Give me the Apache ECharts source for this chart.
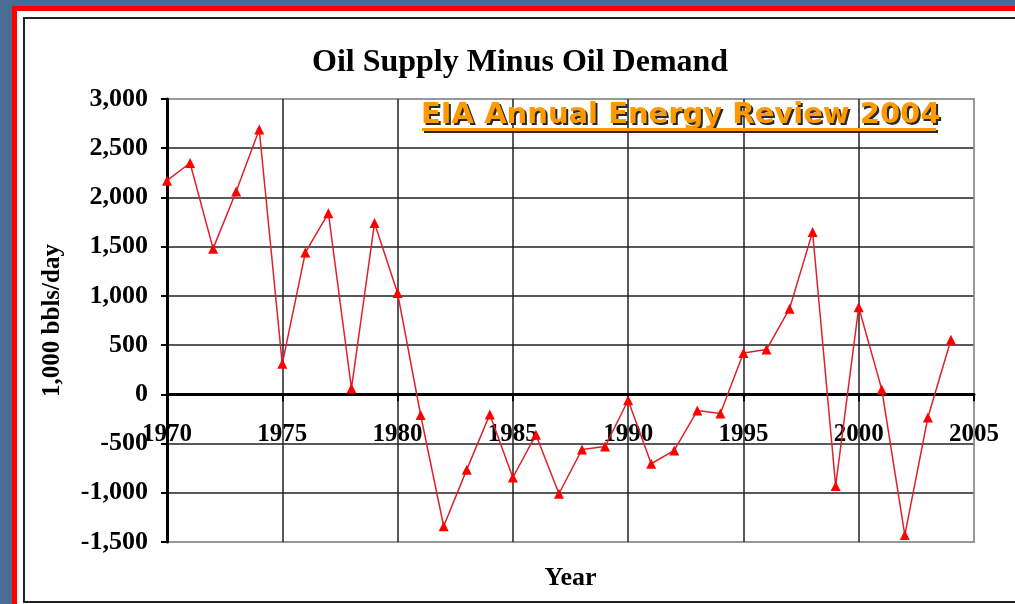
<!DOCTYPE html>
<html>
<head>
<meta charset="utf-8">
<script src="https://cdn.jsdelivr.net/npm/echarts@6/dist/echarts.min.js"></script>
<style>
  html, body { margin: 0; padding: 0; }
  body { width: 1015px; height: 604px; background: #4a6b93; position: relative; overflow: hidden; }
  .frame { position: absolute; left: 12px; top: 6px; width: 1020px; height: 620px; border-left: 5px solid #ff0000; border-top: 5px solid #ff0000; background: #fff; }
  .inner { position: absolute; left: 23px; top: 17px; width: 1010px; height: 582px; border: 2px solid #222; }
  #chart { position: absolute; left: 0; top: 0; width: 1015px; height: 604px; }
</style>
</head>
<body>
<div class="frame"></div>
<div class="inner"></div>
<div id="chart"></div>
<script>
// years and supply minus demand (1,000 bbls/day)
const years = [1970, 1971, 1972, 1973, 1974, 1975, 1976, 1977, 1978, 1979,
  1980, 1981, 1982, 1983, 1984, 1985, 1986, 1987, 1988, 1989,
  1990, 1991, 1992, 1993, 1994, 1995, 1996, 1997, 1998, 1999,
  2000, 2001, 2002, 2003, 2004]
const balance = [2170, 2350, 1480, 2060, 2690, 310, 1440, 1840, 60, 1740,
  1030, -210, -1340, -765, -205, -845, -410, -1010, -560, -530,
  -60, -705, -570, -165, -195, 420, 455, 870, 1650, -930,
  885, 50, -1430, -235, 555]

const serif = 'Liberation Serif'
const linkText = 'EIA Annual Energy Review 2004'
const linkFont = 'bold 29px "DejaVu Sans"'

let chart = echarts.init(document.getElementById('chart'))
let option = {
  backgroundColor: 'transparent',
  animation: false,
  title: {
    text: 'Oil Supply Minus Oil Demand',
    left: 307,
    top: 42,
    textStyle: { fontFamily: serif, fontWeight: 'bold', fontSize: 32, color: '#000' }
  },
  graphic: [
    // link text with its dark drop shadow and underline
    { type: 'text', left: 423, top: 103, z: 9, style: { text: linkText, font: linkFont, fill: '#2a2a2a' } },
    { type: 'rect', left: 424, top: 130, z: 9, shape: { width: 514, height: 3 }, style: { fill: '#2a2a2a' } },
    { type: 'text', left: 421, top: 101, z: 10, style: { text: linkText, font: linkFont, fill: '#ff9900' } },
    { type: 'rect', left: 422, top: 128, z: 10, shape: { width: 514, height: 3 }, style: { fill: '#ff9900' } }
  ],
  grid: {
    left: 167, top: 99, right: 41, bottom: 62,
    show: true, borderColor: '#999', borderWidth: 2, backgroundColor: '#fff',
    containLabel: false, outerBoundsMode: 'none'
  },
  xAxis: {
    type: 'value',
    min: 1970, max: 2005, interval: 5,
    name: 'Year',
    nameLocation: 'middle',
    nameGap: 23,
    nameTextStyle: { fontFamily: serif, fontWeight: 'bold', fontSize: 26, color: '#000' },
    axisLine: { onZero: true, lineStyle: { color: '#000', width: 3 } },
    axisTick: { show: true, length: 7, lineStyle: { color: '#000', width: 2 } },
    axisLabel: {
      margin: -120, fontFamily: serif, fontWeight: 'bold', fontSize: 25, color: '#000',
      showMinLabel: true, showMaxLabel: true,
      formatter: v => String(v)
    },
    splitLine: { show: true, lineStyle: { color: ['#222', '#222', '#222', '#222', '#222', '#222', '#222', '#999'], width: 1.5 } }
  },
  yAxis: {
    type: 'value',
    min: -1500, max: 3000, interval: 500,
    name: '1,000 bbls/day',
    nameLocation: 'middle',
    nameRotate: 90,
    nameGap: 102,
    nameTextStyle: { fontFamily: serif, fontWeight: 'bold', fontSize: 25, color: '#000' },
    axisLine: { show: true, lineStyle: { color: '#000', width: 3 } },
    axisTick: { show: true, length: 6, lineStyle: { color: '#000', width: 2 } },
    axisLabel: {
      margin: 19, fontFamily: serif, fontWeight: 'bold', fontSize: 26, color: '#000',
      formatter: v => v.toLocaleString('en-US')
    },
    splitLine: { show: true, lineStyle: { color: ['#999', '#222', '#222', '#222', '#222', '#222', '#222', '#222', '#222', '#999'], width: 1.5 } }
  },
  series: [
    {
      type: 'line',
      data: years.map((y, i) => [y, balance[i]]),
      symbol: 'triangle',
      symbolSize: 10,
      lineStyle: { color: '#e0202a', width: 1.5 },
      itemStyle: { color: '#ff0000' },
      z: 5
    }
  ]
}
chart.setOption(option)
</script>
</body>
</html>
